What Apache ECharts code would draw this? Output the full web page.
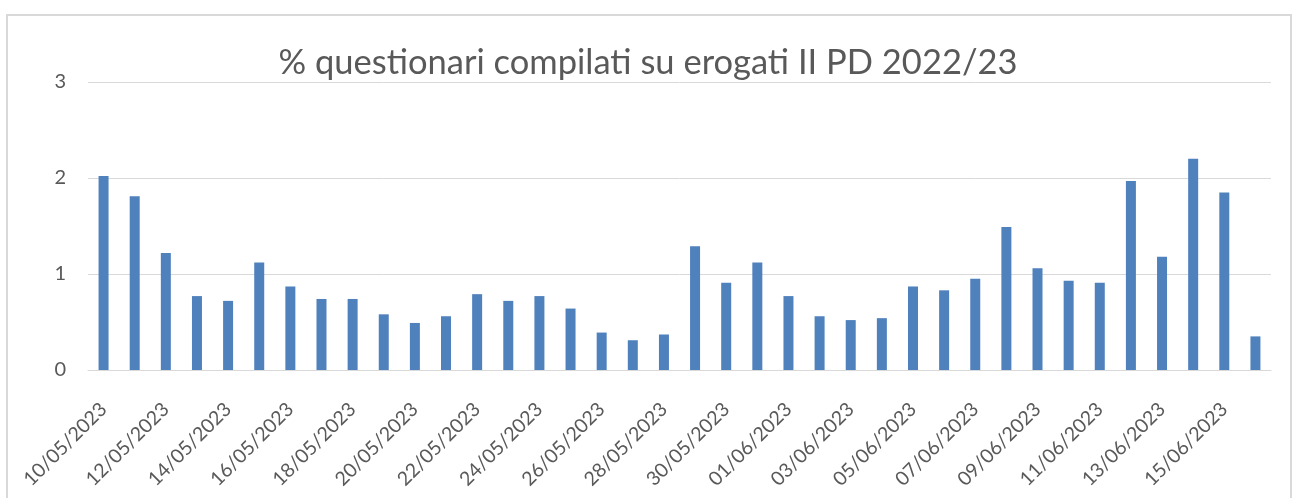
<!DOCTYPE html>
<html>
<head>
<meta charset="utf-8">
<script src="https://cdn.jsdelivr.net/npm/echarts@6/dist/echarts.min.js"></script>
<style>
    html, body { margin: 0; padding: 0; background: #fff; }
    #chart { width: 1296px; height: 498px; }
</style>
</head>
<body>
<div id="chart"></div>
<script>
    const titleText = '% questionari compilati su erogati II PD 2022/23'
    const days = [
        '10/05/2023', '11/05/2023', '12/05/2023', '13/05/2023', '14/05/2023', '15/05/2023',
        '16/05/2023', '17/05/2023', '18/05/2023', '19/05/2023', '20/05/2023', '21/05/2023',
        '22/05/2023', '23/05/2023', '24/05/2023', '25/05/2023', '26/05/2023', '27/05/2023',
        '28/05/2023', '29/05/2023', '30/05/2023', '31/05/2023', '01/06/2023', '02/06/2023',
        '03/06/2023', '04/06/2023', '05/06/2023', '06/06/2023', '07/06/2023', '08/06/2023',
        '09/06/2023', '10/06/2023', '11/06/2023', '12/06/2023', '13/06/2023', '14/06/2023',
        '15/06/2023', '16/06/2023'
    ]
    const percent = [
        2.02, 1.81, 1.22, 0.77, 0.72, 1.12, 0.87, 0.74, 0.74, 0.58, 0.49, 0.56,
        0.79, 0.72, 0.77, 0.64, 0.39, 0.31, 0.37, 1.29, 0.91, 1.12, 0.77, 0.56,
        0.52, 0.54, 0.87, 0.83, 0.95, 1.49, 1.06, 0.93, 0.91, 1.97, 1.18, 2.20,
        1.85, 0.35
    ]
    const yTicks = [0, 1, 2, 3]

    const chartDom = document.getElementById('chart')
    const myChart = echarts.init(chartDom)
    const textColor = '#595959'
    const lineColor = '#d9d9d9'

    const option = {
        animation: false,
        title: {
            text: titleText,
            left: 'center',
            top: 40,
            textStyle: {
                color: textColor,
                fontFamily: 'Lato',
                fontSize: 34.5,
                fontWeight: 'normal'
            }
        },
        // chart frame like the spreadsheet one
        graphic: [
            {
                type: 'rect',
                shape: { x: 7, y: 15, width: 1284, height: 520 },
                style: { fill: 'none', stroke: lineColor, lineWidth: 2 },
                silent: true
            }
        ],
        grid: {
            left: 88,
            right: 25,
            top: 82,
            bottom: 128
        },
        xAxis: {
            type: 'category',
            data: days,
            axisTick: { show: false },
            axisLine: { lineStyle: { color: lineColor, width: 1 } },
            axisLabel: {
                interval: 1,
                rotate: 45,
                margin: 36,
                color: textColor,
                fontFamily: 'Lato',
                fontSize: 19.5
            }
        },
        yAxis: {
            type: 'value',
            min: yTicks[0],
            max: yTicks[yTicks.length - 1],
            interval: 1,
            axisLine: { show: false },
            axisTick: { show: false },
            splitLine: { lineStyle: { color: lineColor, width: 1 } },
            axisLabel: {
                margin: 22,
                color: textColor,
                fontFamily: 'Lato',
                fontSize: 20
            }
        },
        series: [
            {
                type: 'bar',
                data: percent,
                barWidth: 10,
                itemStyle: { color: '#4f81bd' }
            }
        ]
    }
    myChart.setOption(option)
</script>
</body>
</html>
